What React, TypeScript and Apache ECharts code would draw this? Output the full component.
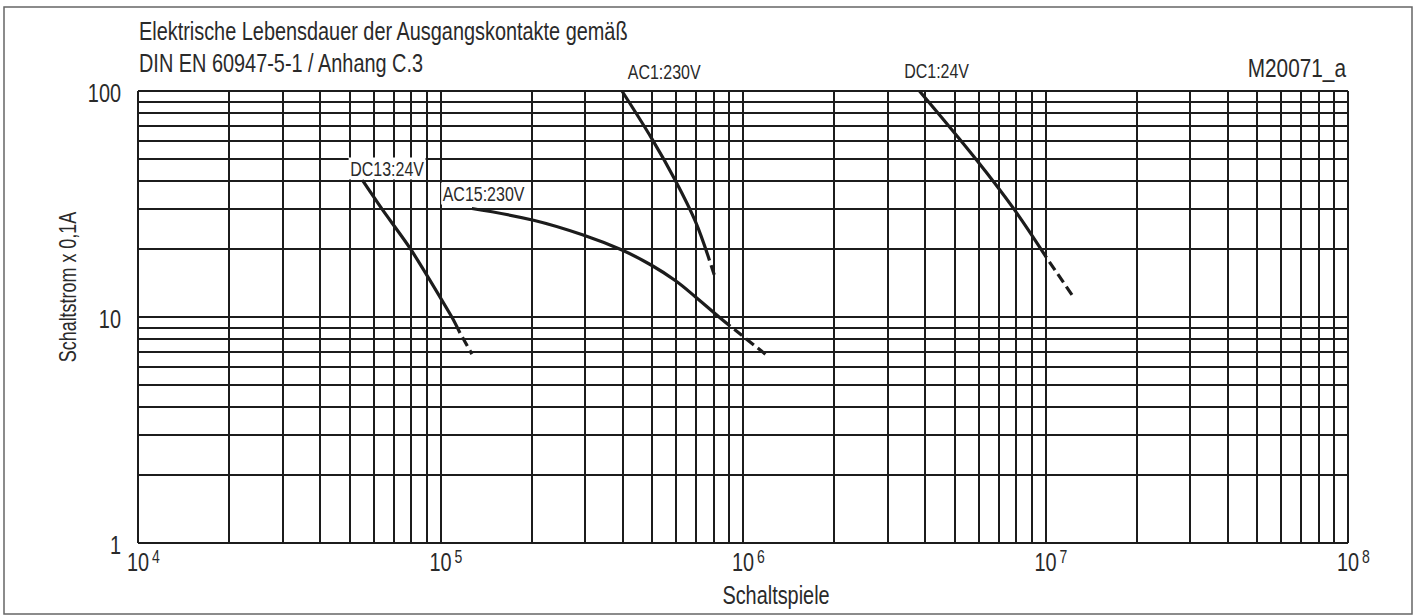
import React, { useEffect, useRef } from "react";
import * as echarts from "echarts";

// ---- texts ----
const titleLines = [
  "Elektrische Lebensdauer der Ausgangskontakte gemäß",
  "DIN EN 60947-5-1 / Anhang C.3",
];
const chartCode = "M20071_a";
const xAxisName = "Schaltspiele";
const yAxisName = "Schaltstrom x 0,1A";

// ---- axes ----
const xRange = [1e4, 1e8];
const yRange = [1, 100];
const xTickExponents = [4, 5, 6, 7, 8];
const yTickLabels = ["1", "10", "100"];
const gridMultipliers = [1, 2, 3, 4, 5, 6, 7, 8, 9];
const xGridDecades = [1e4, 1e5, 1e6, 1e7];
const yGridDecades = [1, 10];

// ---- curves (Schaltspiele, Schaltstrom x 0,1A) ----
const seriesNames = ["DC13:24V", "AC15:230V", "AC1:230V", "DC1:24V"];
const dc13Solid = [[55100, 40.4], [64100, 30], [79600, 20], [109000, 10], [116000, 8.5]];
const dc13Dashed = [[116000, 8.5], [127000, 6.85]];
const ac15Solid = [[127000, 30.2], [203000, 26.8], [301000, 22.9], [398000, 19.8], [500000, 16.9], [597000, 14.5], [700000, 12.2], [841000, 9.9], [908000, 9.1]];
const ac15Dashed = [[908000, 9.1], [1186000, 6.85]];
const ac1Solid = [[398000, 100], [500000, 61.4], [597000, 40.3], [696000, 26.5], [775000, 17.8]];
const ac1Dashed = [[775000, 17.8], [810000, 14.9]];
const dc1Solid = [[3830000, 100], [5890000, 49.9], [7870000, 30], [10080000, 18.3]];
const dc1Dashed = [[10080000, 18.3], [12400000, 12.2]];
// left edge of each curve label, in data space
const labelAnchors = [[49700, 45.4], [100500, 35.2], [416000, 121.4], [3410000, 123.4]];
const labelBoxed = [true, true, false, false];

const FONT = "'Liberation Sans', Arial, sans-serif";
const SX = 0.78; // horizontal compression -> condensed look
const INK = "#1c1c1c";
const TEXT = "#2a2a2a";

const txt = (
  text: string,
  x: number,
  y: number,
  size: number,
  align: string,
  valign: string,
  extra: any = {},
  scaleX = SX
) => ({
  type: "text",
  x,
  y,
  scaleX,
  silent: true,
  z: 100,
  style: {
    text,
    font: `${size}px ${FONT}`,
    fill: TEXT,
    textAlign: align,
    textVerticalAlign: valign,
    ...extra,
  },
});

export default function App() {
  const ref = useRef<HTMLDivElement>(null);
  useEffect(() => {
    if (!ref.current) return;
    const chart = echarts.init(ref.current, undefined, { renderer: "svg" });

    const xGrid: number[] = [];
    xGridDecades.forEach((d) => gridMultipliers.forEach((m) => xGrid.push(d * m)));
    xGrid.push(xRange[1]);
    const yGrid: number[] = [];
    yGridDecades.forEach((d) => gridMultipliers.forEach((m) => yGrid.push(d * m)));
    yGrid.push(yRange[1]);

    const curve = (name: string, data: number[][], dashed: boolean, smooth: number) => ({
      type: "line",
      name,
      data,
      smooth,
      showSymbol: false,
      symbol: "none",
      z: 4,
      silent: true,
      lineStyle: dashed
        ? { color: INK, width: 3.2, type: [10, 5], dashOffset: 10, cap: "butt" }
        : { color: INK, width: 3.2, cap: "butt" },
    });

    const option: any = {
      animation: false,
      textStyle: { fontFamily: FONT, color: TEXT },
      grid: { left: 138, right: 72, top: 91, bottom: 72 },
      xAxis: {
        type: "log",
        logBase: 10,
        min: xRange[0],
        max: xRange[1],
        axisLine: { show: false },
        axisTick: { show: false },
        splitLine: { show: false },
        axisLabel: { show: false },
      },
      yAxis: {
        type: "log",
        logBase: 10,
        min: yRange[0],
        max: yRange[1],
        axisLine: { show: false },
        axisTick: { show: false },
        splitLine: { show: false },
        axisLabel: { show: false },
      },
      series: [
        {
          type: "line",
          name: "grid",
          data: [],
          silent: true,
          z: 1,
          markLine: {
            silent: true,
            symbol: ["none", "none"],
            label: { show: false },
            lineStyle: { color: INK, width: 2, type: "solid" },
            emphasis: { disabled: true },
            data: [
              ...xGrid.map((v) => ({ xAxis: v })),
              ...yGrid.map((v) => ({ yAxis: v })),
            ],
          },
        },
        curve(seriesNames[0], dc13Solid, false, 0.25),
        curve(seriesNames[0], dc13Dashed, true, 0),
        curve(seriesNames[1], ac15Solid, false, 0.4),
        curve(seriesNames[1], ac15Dashed, true, 0),
        curve(seriesNames[2], ac1Solid, false, 0.35),
        curve(seriesNames[2], ac1Dashed, true, 0),
        curve(seriesNames[3], dc1Solid, false, 0.35),
        curve(seriesNames[3], dc1Dashed, true, 0),
      ],
    };
    chart.setOption(option);

    // texts placed through the chart's own scales
    const px = (v: number) => chart.convertToPixel({ xAxisIndex: 0 }, v) as number;
    const py = (v: number) => chart.convertToPixel({ yAxisIndex: 0 }, v) as number;
    const left = px(xRange[0]);
    const right = px(xRange[1]);
    const top = py(yRange[1]);
    const bottom = py(yRange[0]);

    const graphics: any[] = [
      {
        type: "rect",
        shape: { x: 4, y: 7, width: 1408, height: 607 },
        style: { fill: "none", stroke: "#666", lineWidth: 1.5 },
        silent: true,
      },
      txt(titleLines[0], left + 1, 31, 25.5, "left", "middle"),
      txt(titleLines[1], left + 1, 63, 25.5, "left", "middle"),
      txt(chartCode, right - 2, 68, 26, "right", "middle", {}, 0.8),
      txt(xAxisName, (left + right) / 2 + 33, 595, 25.5, "center", "middle"),
      {
        ...txt(yAxisName, 68, (top + bottom) / 2 - 30, 23, "center", "middle"),
        rotation: Math.PI / 2,
      },
    ];

    xTickExponents.forEach((e) => {
      const x = px(Math.pow(10, e));
      graphics.push(txt("10", x, bottom + 19, 25.5, "center", "middle"));
      graphics.push(txt(String(e), x + 14, bottom + 13, 18, "left", "middle"));
    });
    yTickLabels.forEach((l) => {
      graphics.push(txt(l, left - 17, py(Number(l)) + 2, 25.5, "right", "middle"));
    });
    labelAnchors.forEach((a, i) => {
      const [x, y] = chart.convertToPixel({ gridIndex: 0 }, a) as number[];
      graphics.push(
        txt(
          seriesNames[i],
          x,
          y,
          20.5,
          "left",
          "middle",
          labelBoxed[i] ? { backgroundColor: "#fff", padding: [1, 2, 0, 2] } : {}
        )
      );
    });

    chart.setOption({ graphic: graphics });
    return () => chart.dispose();
  }, []);

  return (
    <div
      ref={ref}
      style={{ position: "absolute", left: 0, top: 0, width: 1420, height: 615, background: "#fff" }}
    />
  );
}
